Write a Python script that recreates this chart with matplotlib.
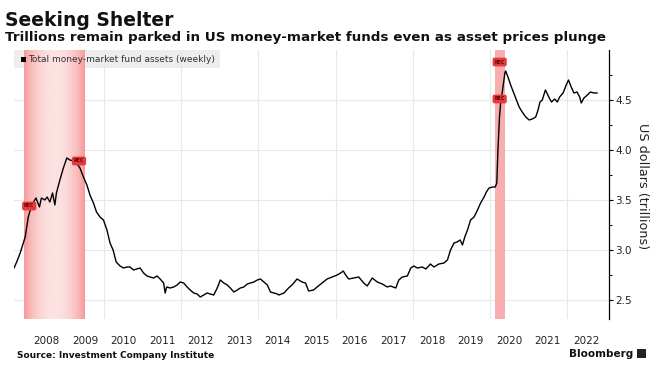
import matplotlib
matplotlib.use("Agg")
import matplotlib.pyplot as plt
import numpy as np
from matplotlib.colors import LinearSegmentedColormap
from matplotlib.patches import Rectangle

# weekly series (decimal years, trillions of US dollars)
years = [
    2007.66, 2007.73, 2007.82, 2007.95, 2008.03, 2008.12, 2008.23, 2008.32, 2008.37, 2008.46,
    2008.52, 2008.59, 2008.66, 2008.72, 2008.76, 2008.85, 2008.94, 2009.03, 2009.11, 2009.20,
    2009.28, 2009.37, 2009.46, 2009.55, 2009.63, 2009.72, 2009.80, 2009.89, 2009.98, 2010.07,
    2010.15, 2010.23, 2010.31, 2010.41, 2010.50, 2010.59, 2010.67, 2010.76, 2010.85, 2010.93,
    2011.02, 2011.11, 2011.19, 2011.28, 2011.37, 2011.45, 2011.54, 2011.58, 2011.62, 2011.71,
    2011.80, 2011.89, 2011.97, 2012.06, 2012.15, 2012.23, 2012.32, 2012.41, 2012.49, 2012.58,
    2012.67, 2012.75, 2012.84, 2012.93, 2013.01, 2013.10, 2013.19, 2013.27, 2013.36, 2013.45,
    2013.53, 2013.62, 2013.71, 2013.79, 2013.88, 2013.97, 2014.05, 2014.14, 2014.23, 2014.31,
    2014.40, 2014.49, 2014.53, 2014.66, 2014.78, 2014.87, 2015.00, 2015.13, 2015.22, 2015.30,
    2015.43, 2015.52, 2015.65, 2015.78, 2015.91, 2016.04, 2016.13, 2016.20, 2016.26, 2016.34,
    2016.47, 2016.60, 2016.73, 2016.82, 2016.95, 2017.08, 2017.21, 2017.34, 2017.42, 2017.56,
    2017.64, 2017.73, 2017.86, 2017.95, 2018.03, 2018.12, 2018.25, 2018.34, 2018.46, 2018.55,
    2018.68, 2018.81, 2018.90, 2018.98, 2019.07, 2019.15, 2019.23, 2019.29, 2019.35, 2019.42,
    2019.50, 2019.59, 2019.68, 2019.76, 2019.85, 2019.91, 2019.98, 2020.07, 2020.14, 2020.18,
    2020.21, 2020.25, 2020.28, 2020.33, 2020.39, 2020.41, 2020.47, 2020.54, 2020.61, 2020.67,
    2020.76, 2020.84, 2020.93, 2021.02, 2021.10, 2021.19, 2021.25, 2021.30, 2021.36, 2021.44,
    2021.48, 2021.54, 2021.60, 2021.68, 2021.75, 2021.81, 2021.90, 2021.98, 2022.04, 2022.11,
    2022.18, 2022.26, 2022.33, 2022.37, 2022.44, 2022.53, 2022.61, 2022.70, 2022.78,
]
assets = [
    2.82, 2.88, 2.97, 3.13, 3.33, 3.45, 3.52, 3.43, 3.52, 3.50,
    3.53, 3.48, 3.57, 3.45, 3.57, 3.70, 3.82, 3.92, 3.90, 3.89,
    3.87, 3.82, 3.73, 3.65, 3.55, 3.47, 3.38, 3.33, 3.30, 3.20,
    3.07, 3.00, 2.88, 2.84, 2.82, 2.83, 2.83, 2.80, 2.81, 2.82,
    2.77, 2.74, 2.73, 2.72, 2.74, 2.71, 2.67, 2.57, 2.63, 2.62,
    2.63, 2.65, 2.68, 2.67, 2.63, 2.60, 2.57, 2.56, 2.53, 2.55,
    2.57, 2.56, 2.55, 2.62, 2.70, 2.67, 2.65, 2.62, 2.58, 2.60,
    2.62, 2.63, 2.66, 2.67, 2.68, 2.70, 2.71, 2.68, 2.65, 2.58,
    2.57, 2.56, 2.55, 2.57, 2.62, 2.65, 2.71, 2.68, 2.67, 2.59,
    2.60, 2.63, 2.67, 2.71, 2.73, 2.75, 2.77, 2.79, 2.75, 2.71,
    2.72, 2.73, 2.67, 2.64, 2.72, 2.68, 2.66, 2.63, 2.64, 2.62,
    2.70, 2.73, 2.74, 2.82, 2.84, 2.82, 2.83, 2.81, 2.86, 2.83,
    2.86, 2.87, 2.90, 3.00, 3.07, 3.08, 3.10, 3.05, 3.13, 3.20,
    3.30, 3.33, 3.40, 3.47, 3.53, 3.58, 3.62, 3.63, 3.63, 3.67,
    4.00, 4.33, 4.47, 4.60, 4.77, 4.79, 4.73, 4.65, 4.58, 4.52,
    4.43, 4.38, 4.33, 4.30, 4.31, 4.33, 4.40, 4.48, 4.50, 4.60,
    4.57, 4.52, 4.48, 4.51, 4.48, 4.53, 4.57, 4.65, 4.70, 4.63,
    4.57, 4.58, 4.53, 4.47, 4.52, 4.55, 4.58, 4.57, 4.57,
]

# recessions (start, end) and REC badge positions
recessions = [(2007.92, 2009.48), (2020.13, 2020.37)]
rec_badges = [(2007.92, 3.44, "left"), (2009.48, 3.89, "right"),
              (2020.12, 4.88, "left"), (2020.12, 4.51, "left")]

year_labels = list(range(2008, 2023))
grid_years = [2010, 2012, 2014, 2016, 2018, 2020, 2022]
y_major = [2.5, 3.0, 3.5, 4.0, 4.5]
y_minor = [2.75, 3.25, 3.75, 4.25, 4.75]

plt.rcParams['font.family'] = ['DejaVu Sans']

fig = plt.figure(figsize=(6.62, 3.74), dpi=100)
ax = fig.add_axes([14 / 662, 55 / 374, (609 - 14) / 662, (324 - 55) / 374])

xmin, xmax = 2007.66, 2023.09
ymin, ymax = 2.31, 5.0

# legend background (under the shading)
ax.add_patch(Rectangle((0, 1 - 18 / 269), 206 / 595, 18 / 269, transform=ax.transAxes,
                       fc='#ededed', ec='none', zorder=0))

# recession shading, darker toward the edges
cmap = LinearSegmentedColormap.from_list('rec', ['#fde2e2', '#f69999'])
for i, (s, e) in enumerate(recessions):
    if i == 0:
        prof = np.abs(np.linspace(-1, 1, 200)) ** 2.2
    else:
        prof = np.full(200, 0.7)
    ax.imshow(prof[np.newaxis, :], cmap=cmap, vmin=0, vmax=1, aspect='auto',
              extent=[s, e, ymin, ymax], zorder=1, interpolation='bilinear')

ax.plot(years, assets, color='black', lw=1.0, zorder=3)

for x, y, side in rec_badges:
    ax.text(x, y, "REC", fontsize=3.4, fontweight='bold', color='#6b0000',
            ha=side, va='center', zorder=4,
            bbox=dict(boxstyle='round,pad=0.4', fc='#e5393b', ec='none'))

ax.set_xlim(xmin, xmax)
ax.set_ylim(ymin, ymax)

for s in ['top', 'left', 'bottom']:
    ax.spines[s].set_visible(False)
ax.spines['right'].set_linewidth(0.9)

ax.yaxis.tick_right()
ax.set_yticks(y_major)
ax.set_yticklabels([f"{v:.1f}" for v in y_major])
ax.set_yticks(y_minor, minor=True)
ax.tick_params(axis='y', which='major', length=3, width=0.8, pad=1.5,
               labelsize=7.5, labelcolor='#222222')
ax.tick_params(axis='y', which='minor', length=2, width=0.7)

ax.set_xticks(grid_years)
ax.set_xticklabels([''] * len(grid_years))
ax.set_xticks([y + 0.5 for y in year_labels], minor=True)
ax.set_xticklabels([str(y) for y in year_labels], minor=True)
ax.tick_params(axis='x', which='both', length=0, pad=12, labelsize=7.5,
               labelcolor='#222222')

ax.grid(True, which='major', color='#e8e8e8', lw=0.8)
ax.set_axisbelow(True)

# legend
ax.add_patch(Rectangle((7 / 595, 1 - 12 / 269), 5 / 595, 5 / 269, transform=ax.transAxes,
                       fc='black', ec='none', zorder=5))
ax.text(14 / 595, 1 - 9.5 / 269, "Total money-market fund assets (weekly)",
        transform=ax.transAxes, fontsize=6.5, color='#333333', va='center', zorder=5)

fig.text(643 / 662, 1 - 186 / 374, "US dollars (trillions)", rotation=270,
         ha='center', va='center', fontsize=9.2, color='#222222')

fig.text(5 / 662, 1 - 26 / 374, "Seeking Shelter", fontsize=13.5, fontweight='bold',
         va='baseline', color='#111111')
fig.text(5 / 662, 1 - 41 / 374,
         "Trillions remain parked in US money-market funds even as asset prices plunge",
         fontsize=9.7, fontweight='bold', va='baseline', color='#111111')

fig.text(17 / 662, 1 - 355 / 374, "Source: Investment Company Institute",
         fontsize=6.5, fontweight='bold', va='center', color='#111111')
fig.text(633 / 662, 1 - 354 / 374, "Bloomberg", fontsize=7.5, fontweight='bold',
         ha='right', va='center', color='#111111')
fig.patches.append(Rectangle((637 / 662, 1 - 358 / 374), 9 / 662, 9 / 374,
                             transform=fig.transFigure, fc='#222222', ec='none'))

fig.savefig("out.png", dpi=100)
